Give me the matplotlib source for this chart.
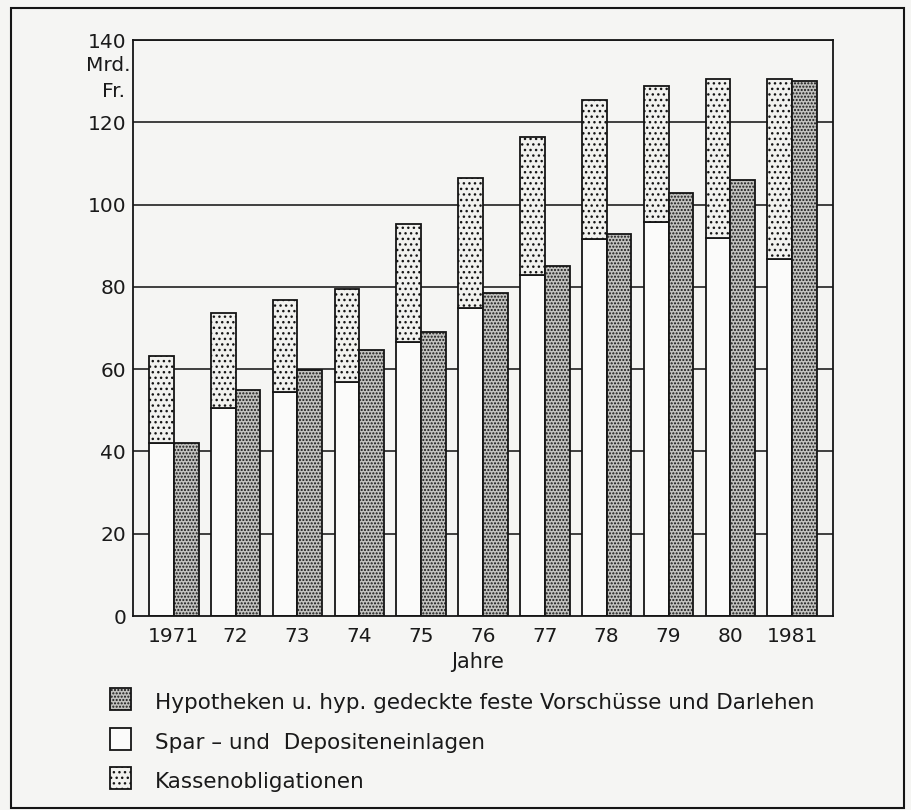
import numpy as np
import matplotlib
matplotlib.use('Agg')
from matplotlib import pyplot as plt
from matplotlib.patches import Rectangle
import matplotlib.transforms as mtransforms

# data (Mrd. Fr.)
years = ['1971', '72', '73', '74', '75', '76', '77', '78', '79', '80', '1981']
spar = [42.0, 50.6, 54.4, 56.9, 66.6, 74.9, 82.9, 91.6, 95.8, 91.9, 86.8]
kasse = [21.2, 23.1, 22.4, 22.6, 28.7, 31.6, 33.5, 33.8, 33.0, 38.6, 43.7]
hypo = [42.0, 55.0, 59.8, 64.7, 69.0, 78.5, 85.1, 92.9, 102.8, 106.0, 130.0]
yticks = [0, 20, 40, 60, 80, 100, 120, 140]
legend_labels = ['Hypotheken u. hyp. gedeckte feste Vorschüsse und Darlehen',
                 'Spar – und  Depositeneinlagen',
                 'Kassenobligationen']

W, H = 911, 810
bg = '#f5f5f3'
plt.rcParams['font.family'] = ['DejaVu Sans']
plt.rcParams['hatch.linewidth'] = 1.0
plt.rcParams['hatch.color'] = '#303030'

fig = plt.figure(figsize=(W / 100, H / 100), dpi=100, facecolor=bg)


def fx(px):
    return px / W


def fy(py):
    return 1 - py / H


ax = fig.add_axes([fx(133), fy(616), fx(833) - fx(133), fy(40) - fy(616)])
ax.set_facecolor(bg)

x = np.arange(len(years))
bw = 0.4
for v in yticks[1:]:
    ax.axhline(v, color='#202020', lw=1.2, zorder=1)

ax.bar(x - bw / 2, spar, bw, color='#fbfbfa', edgecolor='#151515', lw=1.3, zorder=2)
ax.bar(x - bw / 2, kasse, bw, bottom=spar, color='#f1f1ee', edgecolor='#151515',
       lw=1.3, hatch='...', zorder=2)
ax.bar(x + bw / 2, hypo, bw, color='#c2c2bf', edgecolor='#151515', lw=1.3,
       hatch='.....', zorder=2)

ax.set_xlim(-0.66, 10.66)
ax.set_ylim(0, 140)
ax.set_xticks(x)
ax.set_xticklabels(years)
ax.set_yticks(yticks)
ax.tick_params(length=0, labelsize=14.5, colors='#1a1a1a')
ax.tick_params(axis='x', pad=8)
ax.tick_params(axis='y', pad=5)
for s in ax.spines.values():
    s.set_linewidth(1.3)
    s.set_color('#151515')

trans = mtransforms.blended_transform_factory(ax.transAxes, ax.transData)
ax.text(-0.004, 133.7, 'Mrd.', transform=trans, ha='right', va='center',
        fontsize=14.5, color='#1a1a1a')
ax.text(-0.011, 127.5, 'Fr.', transform=trans, ha='right', va='center',
        fontsize=14.5, color='#1a1a1a')

fig.text(fx(478), fy(662), 'Jahre', ha='center', va='center', fontsize=15,
         color='#1a1a1a')

# legend
styles = [dict(facecolor='#c2c2bf', hatch='.....'),
          dict(facecolor='#fbfbfa', hatch=None),
          dict(facecolor='#f1f1ee', hatch='...')]
rows = [699, 739, 778]
for lab, st, ry in zip(legend_labels, styles, rows):
    fig.patches.append(Rectangle((fx(110), fy(ry + 11)), fx(21), fy(0) - fy(22),
                                 transform=fig.transFigure, edgecolor='#151515',
                                 lw=1.3, **st))
    fig.text(fx(155), fy(ry + 4), lab, ha='left', va='center', fontsize=15.5,
             color='#1a1a1a')

# outer frame
fig.patches.append(Rectangle((fx(11), fy(808)), fx(904) - fx(11), fy(8) - fy(808),
                             transform=fig.transFigure, fill=False,
                             edgecolor='#151515', lw=1.5))

fig.savefig('out.png', dpi=100, facecolor=bg)
